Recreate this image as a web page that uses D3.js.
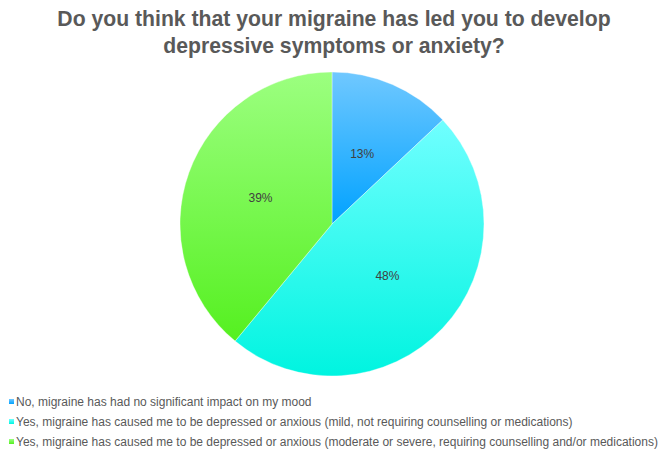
<!DOCTYPE html>
<html><head><meta charset="utf-8">
<script src="https://cdn.jsdelivr.net/npm/d3@7"></script>
<style>body{margin:0;background:#fff}svg{display:block}text{font-family:"Liberation Sans",Arial,sans-serif}</style>
</head><body>
<script>
const titleLines = ["Do you think that your migraine has led you to develop", "depressive symptoms or anxiety?"];
const categories = [
  "No, migraine has had no significant impact on my mood",
  "Yes, migraine has caused me to be depressed or anxious (mild, not requiring counselling or medications)",
  "Yes, migraine has caused me to be depressed or anxious (moderate or severe, requiring counselling and/or medications)"
];
const values = [13, 48, 39];
const gradTop = ["#70c8ff", "#70ffff", "#9cff80"];
const gradBottom = ["#00a2ff", "#00f4e0", "#55f020"];

const W = 672, H = 457;
const svg = d3.select("body").append("svg").attr("width", W).attr("height", H);
const defs = svg.append("defs");

const cx = 332, cy = 224, R = 152;
const pie = d3.pie().sort(null).value(d => d)(values);
const arc = d3.arc().innerRadius(0).outerRadius(R);

pie.forEach((p, i) => {
  const pts = [[0,0]];
  const steps = 60;
  for (let k = 0; k <= steps; k++) {
    const a = p.startAngle + (p.endAngle - p.startAngle) * k / steps;
    pts.push([R * Math.sin(a), -R * Math.cos(a)]);
  }
  const ys = pts.map(q => q[1]);
  const g = defs.append("linearGradient").attr("id", "g" + i)
    .attr("gradientUnits", "userSpaceOnUse")
    .attr("x1", 0).attr("x2", 0).attr("y1", d3.min(ys)).attr("y2", d3.max(ys));
  g.append("stop").attr("offset", 0).attr("stop-color", gradTop[i]);
  g.append("stop").attr("offset", 1).attr("stop-color", gradBottom[i]);

  const lg = defs.append("linearGradient").attr("id", "l" + i)
    .attr("x1", 0).attr("x2", 0).attr("y1", 0).attr("y2", 1);
  lg.append("stop").attr("offset", 0).attr("stop-color", gradTop[i]);
  lg.append("stop").attr("offset", 1).attr("stop-color", gradBottom[i]);
});

const gp = svg.append("g").attr("transform", `translate(${cx},${cy})`);
gp.selectAll("path").data(pie).join("path")
  .attr("d", arc)
  .attr("fill", (d, i) => `url(#g${i})`)
  .attr("stroke", "#ffffff").attr("stroke-width", 0.6).attr("stroke-opacity", 0.6);

const labelArc = d3.arc().innerRadius(R * 0.5).outerRadius(R * 0.5);
gp.selectAll("text").data(pie).join("text")
  .attr("transform", d => { const c = labelArc.centroid(d); return `translate(${c[0]},${c[1]})`; })
  .attr("text-anchor", "middle").attr("dy", "0.35em")
  .attr("font-size", 12).attr("fill", "#404040")
  .text(d => d.value + "%");

svg.append("g").selectAll("text").data(titleLines).join("text")
  .attr("x", 334).attr("y", (d, i) => 26 + i * 27)
  .attr("text-anchor", "middle").attr("font-size", 21.2).attr("font-weight", "bold").attr("fill", "#595959")
  .text(d => d);

const lg = svg.append("g");
categories.forEach((c, i) => {
  const y = 402 + i * 20;
  lg.append("rect").attr("x", 9).attr("y", y - 3).attr("width", 5).attr("height", 5).attr("fill", `url(#l${i})`);
  lg.append("text").attr("x", 16).attr("y", y).attr("dy", "0.35em")
    .attr("font-size", 12).attr("fill", "#595959").text(c);
});
</script>
</body></html>
